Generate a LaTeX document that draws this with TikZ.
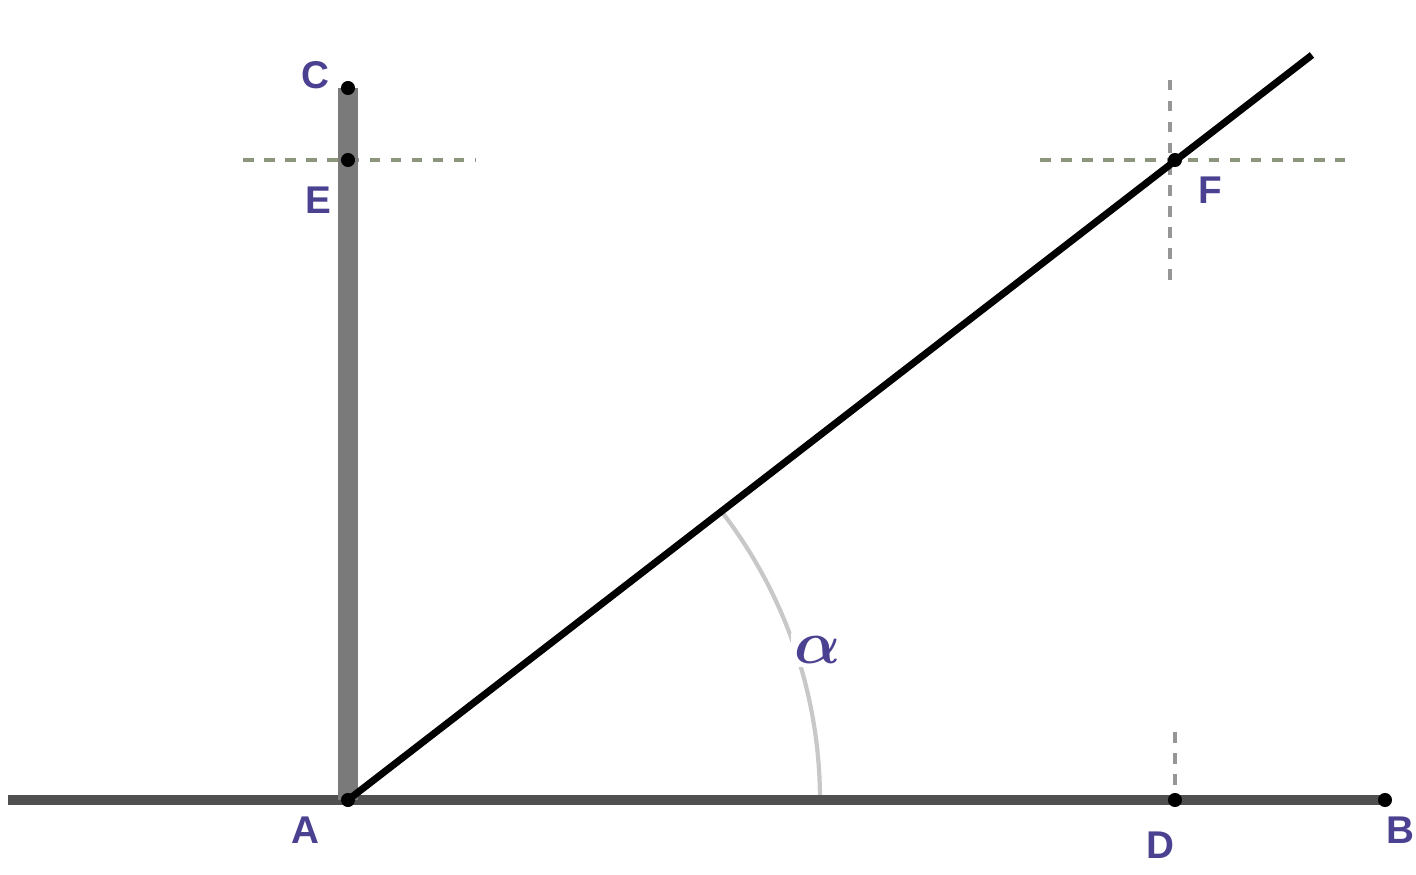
\documentclass[tikz,border=0pt]{standalone}
\usepackage{fontspec}
\usepackage{amsmath}
\setmainfont{Liberation Sans}
\definecolor{labelblue}{RGB}{75, 65, 145}
\definecolor{axisgray}{RGB}{80, 80, 80}
\definecolor{wallgray}{RGB}{122, 122, 122}
\definecolor{guidegreen}{RGB}{140, 150, 125}
\definecolor{guidegray}{RGB}{150, 150, 150}
\definecolor{arcgray}{RGB}{200, 200, 200}
\usetikzlibrary{calc}

\begin{document}
\begin{tikzpicture}
                    \useasboundingbox (0, 0) rectangle (14.16, 8.75);
                    \tikzset{pt/.style={circle, fill=black, inner sep=0pt, minimum size=4pt},
                             lbl/.style={font=\bfseries\fontsize{11}{13}\selectfont, text=labelblue}}
                    % points
                    \coordinate (A) at (3.48, 0.75);
                    \coordinate (B) at (13.85, 0.75);
                    \coordinate (C) at (3.48, 7.87);
                    \coordinate (E) at (3.48, 7.15);
                    \coordinate (F) at (11.75, 7.15);
                    \coordinate (D) at (11.75, 0.75);
                    \coordinate (G) at (13.12, 8.20);
                    \coordinate (O) at (0.08, 0.75);
                    % angle arc
                    \draw[arcgray, line width=1.2pt] ($(A)+(4.72,0)$) arc[start angle=0, end angle=37.7, radius=4.72];
                    % guide lines
                    \draw[dashed, guidegreen, line width=1.2pt] (2.43, 7.15) -- (4.75, 7.15);
                    \draw[dashed, guidegreen, line width=1.2pt] (10.40, 7.15) -- (13.45, 7.15);
                    \draw[dashed, guidegray, line width=1.2pt] (11.70, 5.95) -- (11.70, 7.98);
                    \draw[dashed, guidegray, line width=1.2pt] (11.75, 1.43) -- (11.75, 0.60);
                    % main lines
                    \draw[axisgray, line width=2.6pt] (O) -- (B);
                    \draw[wallgray, line width=5.5pt] (A) -- (C);
                    \draw[black, line width=2pt] (A) -- (G);
                    \node[pt] (pA) at (A) {};
                    \node[pt] (pB) at (B) {};
                    \node[pt] (pC) at (C) {};
                    \node[pt] (pE) at (E) {};
                    \node[pt] (pF) at (F) {};
                    \node[pt] (pD) at (D) {};
                    % labels
                    \node[lbl] (lC) at (3.15, 8.00) {C};
                    \node[lbl] (lE) at (3.18, 6.75) {E};
                    \node[lbl] (lF) at (12.10, 6.85) {F};
                    \node[lbl] (lA) at (3.05, 0.45) {A};
                    \node[lbl] (lD) at (11.60, 0.30) {D};
                    \node[lbl] (lB) at (14.00, 0.45) {B};
                    \node[lbl, fill=white, inner sep=1pt, font=\fontsize{17}{19}\selectfont] (lang) at (8.18, 2.25) {$\boldsymbol{\alpha}$};
                \end{tikzpicture}
\end{document}
